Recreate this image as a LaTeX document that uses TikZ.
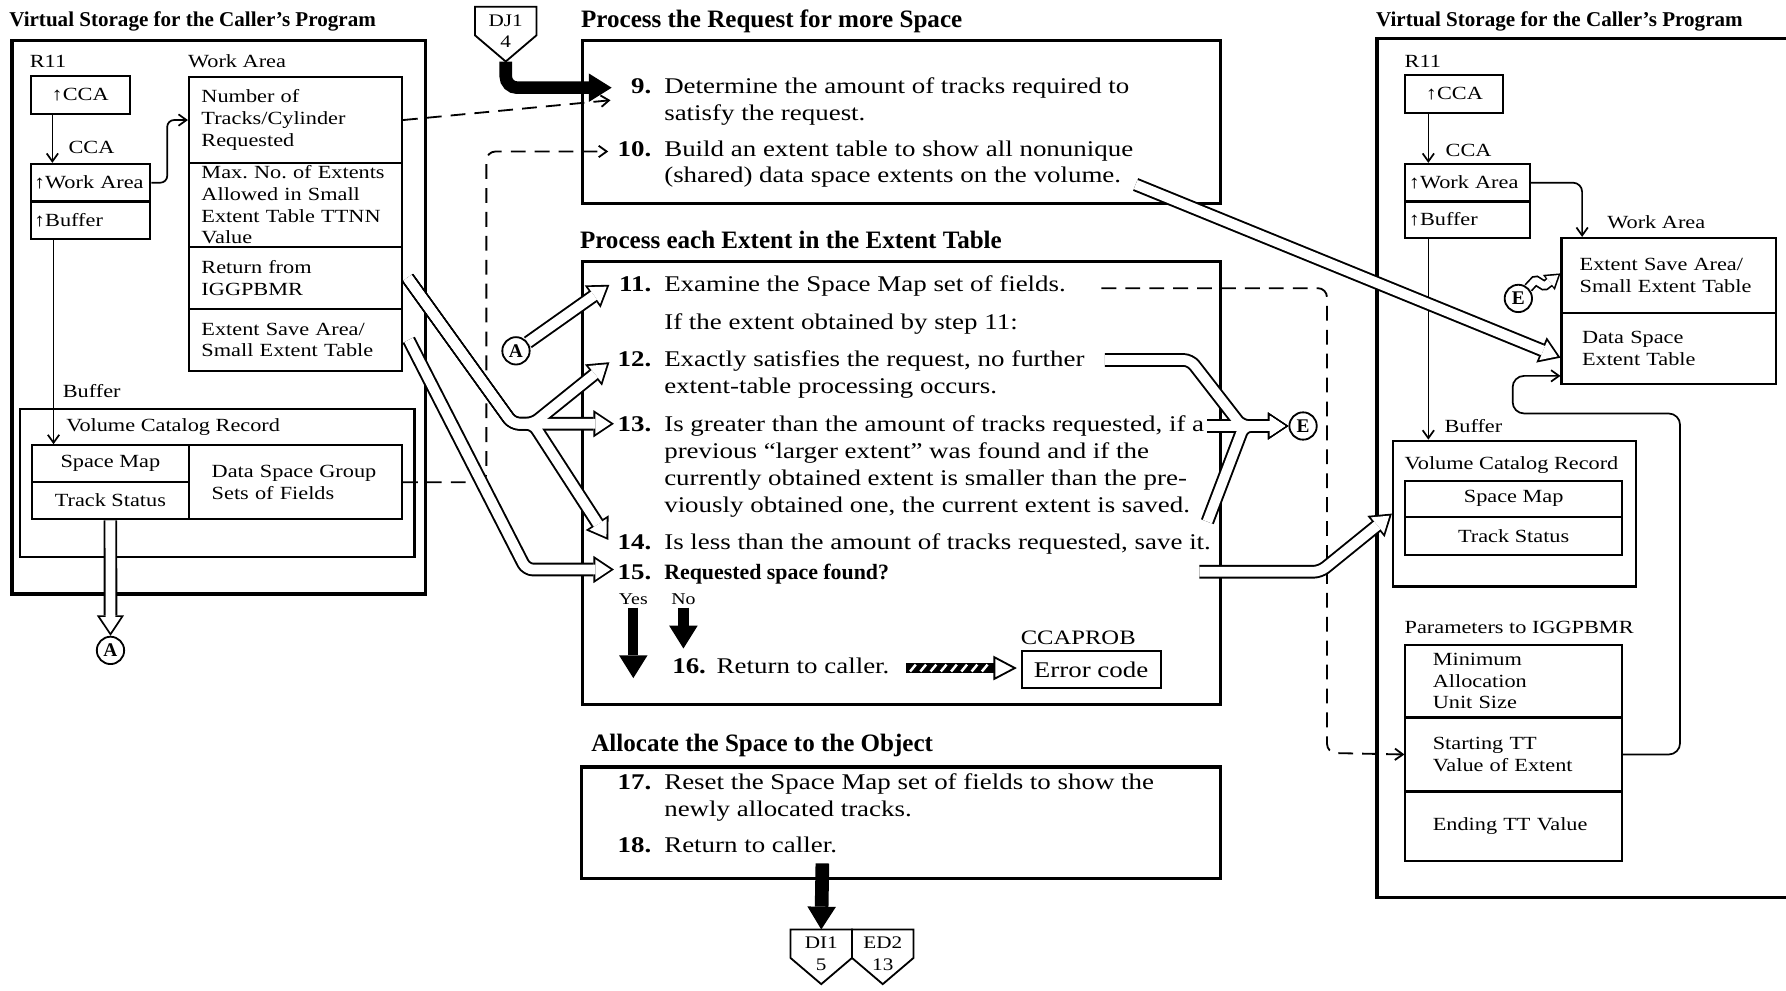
\documentclass[tikz,border=0pt]{standalone}
\usepackage{fontspec}
\setmainfont{Liberation Serif}[FakeStretch=1.2]
\newfontfamily\headfont{Liberation Serif}
\usetikzlibrary{arrows.meta}
\frenchspacing

% type sizes
\newcommand\boxtext{\fontsize{16.3}{19}\selectfont}
\newcommand\steptext{\fontsize{19.7}{23.5}\selectfont}
\newcommand\smalltext{\fontsize{14.5}{17}\selectfont}
\newcommand\headtext{\headfont\bfseries\fontsize{22}{26}\selectfont}
\newcommand\sidetext{\headfont\bfseries\fontsize{18.5}{22}\selectfont}

\tikzset{
  pics/offpage/.style 2 args={code={
    \draw[line width=1.6, fill=white] (-27,0) -- (27,0) -- (27,25) -- (0,48) -- (-27,25) -- cycle;
    \node[font=\fontsize{15.5}{18}\selectfont, inner sep=0] (-a) at (0,12) {#1};
    \node[font=\fontsize{15.5}{18}\selectfont, inner sep=0] (-b) at (0,31) {#2};
    \coordinate (-top) at (0,0);
    \coordinate (-tip) at (0,48);
  }},
}

% the wide hollow arrows, drawn once black and once white
\newcommand\widepaths[1]{
  \draw[#1] (tstat.south) -- (A1);
  \draw[#1] (A2) -- (535,250);
  \draw[#1] ([xshift=4]wa3.east) -- (450,372) -- (468,372) -- (535,318);
  \draw[#1] ([xshift=4]wa3.east) -- (450,372) -- (539,372);
  \draw[#1] ([xshift=4]wa3.east) -- (450,372) -- (468,372) -- (534,474);
  \draw[#1] ([xshift=5]wa4.east) -- (462,500) -- (539,500);
  \draw[#1] (e12) -- (1045,316) -- (1090,374) -- (E1);
  \draw[#1] (e13) -- (E1);
  \draw[#1] (e14) -- (1092,374) -- (E1);
  \draw[#1] (e10) -- (1370,314);
  \draw[#1] (e15) -- (1159,502) -- (vcr2.west);
}

\begin{document}
\begin{tikzpicture}[x=1pt, y=-1pt,
  panel/.style={draw, line width=3, inner sep=0, anchor=north west},
  cell/.style={draw, line width=1.8, anchor=north west, inner xsep=10, inner ysep=0, font=\boxtext, align=left},
  lbl/.style={font=\boxtext, inner sep=0, anchor=base west},
  ttl/.style={font=\sidetext, inner sep=0, anchor=base west},
  head/.style={font=\headtext, inner sep=0, anchor=base west},
  num/.style={font=\steptext\bfseries, inner sep=0, anchor=base east},
  txt/.style={font=\steptext, inner sep=0, anchor=base west, align=left},
  conn/.style={draw, circle, line width=1.6, minimum size=24, inner sep=0, fill=white,
    font=\headfont\bfseries\fontsize{17}{20}\selectfont},
  ptr/.style={line width=1.5, -{Straight Barb[length=7pt,width=10pt]}},
  dashline/.style={line width=1.6, dash pattern=on 13pt off 8pt, rounded corners=8,
    -{Straight Barb[length=7pt,width=10pt]}},
  fat/.style={line width=11, -{Triangle[length=20pt,width=25pt,line width=0pt]}},
  wideout/.style={line width=12, rounded corners=6, -{Triangle[length=18pt,width=24pt,line width=0pt]}},
  widein/.style={white, line width=8.6, rounded corners=6, shorten >=2.9pt,
    -{Triangle[length=13.5pt,width=18pt,line width=0pt]}},
]
\useasboundingbox (0,0) rectangle (1568,870);

% ---- left storage panel
\node[ttl] (ltitle) at (8,23) {Virtual Storage for the Caller’s Program};
\node[panel, minimum width=363, minimum height=486] (lpanel) at (9,34) {};
\node[lbl] (r11) at (26,59) {R11};
\node[cell, align=center, minimum width=87, minimum height=33] (cca) at (26,66) {↑CCA};
\node[lbl] (ccalbl) at (60,135) {CCA};
\node[cell, inner xsep=3, minimum width=105, minimum height=33, text width=99] (wap) at (26,143) {↑Work Area};
\node[cell, inner xsep=3, minimum width=105, minimum height=33, text width=99] (bufp) at (26,176) {↑Buffer};
\draw[ptr] ([xshift=20]cca.south west) -- ([xshift=20]wap.north west);

\node[lbl] (walbl) at (165,59) {Work Area};
\node[cell, inner xsep=11, minimum width=187, minimum height=75, text width=165] (wa1) at (165,67)
  {Number of\\Tracks/Cylinder\\Requested};
\node[cell, inner xsep=11, minimum width=187, minimum height=74, text width=165] (wa2) at (165,142)
  {Max. No. of Extents\\Allowed in Small\\Extent Table TTNN\\Value};
\node[cell, inner xsep=11, minimum width=187, minimum height=54, text width=165] (wa3) at (165,216)
  {Return from\\IGGPBMR};
\node[cell, inner xsep=11, minimum width=187, minimum height=55, text width=165] (wa4) at (165,270)
  {Extent Save Area/\\Small Extent Table};
\draw[ptr, rounded corners=6] (wap.east) -- ++(14,0) |- (wa1.west);

\node[lbl] (buflbl) at (55,349) {Buffer};
\node[cell, minimum width=346, minimum height=130] (vcr) at (17,358) {};
\node[lbl] (vcrlbl) at (58,379) {Volume Catalog Record};
\node[cell, align=center, minimum width=138, minimum height=32] (smap) at (27,390) {Space Map};
\node[cell, align=center, minimum width=138, minimum height=33] (tstat) at (27,422) {Track Status};
\node[cell, inner xsep=20, minimum width=187, minimum height=65, text width=147] (dsg) at (165,390)
  {Data Space Group\\Sets of Fields};
\draw[ptr] ([xshift=21]bufp.south west) -- ([xshift=20]smap.north west);
\node[conn] (A1) at (97,571) {A};

% ---- process request (multi-line texts sit on their last baseline)
\pic (dj1) at (444,6) {offpage={DJ1}{4}};
\node[head] (h1) at (510,24) {Process the Request for more Space};
\node[panel, minimum width=560, minimum height=143] (reqbox) at (510,34) {};
\node[num] (n9) at (572,82) {9.};
\node[txt] (s9) at (583,105.5) {Determine the amount of tracks required to\\satisfy the request.};
\node[num] (n10) at (572,137) {10.};
\node[txt] (s10) at (583,160.5) {Build an extent table to show all nonunique\\(shared) data space extents on the volume.};
\draw[fat, rounded corners=10] (dj1-tip) |- (537,77);

% ---- process each extent
\node[head] (h2) at (509,218) {Process each Extent in the Extent Table};
\node[panel, minimum width=560, minimum height=389] (extbox) at (510,228) {};
\node[num] (n11) at (572,256) {11.};
\node[txt] (s11) at (583,256) {Examine the Space Map set of fields.};
\node[txt] (sif) at (583,289) {If the extent obtained by step 11:};
\node[num] (n12) at (572,322) {12.};
\node[txt] (s12) at (583,345.5) {Exactly satisfies the request, no further\\extent-table processing occurs.};
\node[num] (n13) at (572,379) {13.};
\node[txt] (s13) at (583,449.5) {Is greater than the amount of tracks requested, if a\\previous “larger extent” was found and if the\\currently obtained extent is smaller than the pre-\\viously obtained one, the current extent is saved.};
\node[num] (n14) at (572,482) {14.};
\node[txt] (s14) at (583,482) {Is less than the amount of tracks requested, save it.};
\node[num] (n15) at (572,509) {15.};
\node[txt, font=\headfont\bfseries\fontsize{19.2}{23}\selectfont] (s15) at (583,509) {Requested space found?};
\node[font=\smalltext, inner sep=0, anchor=base] (yes) at (556,531) {Yes};
\node[font=\smalltext, inner sep=0, anchor=base] (no) at (600,531) {No};
\draw[fat, line width=9] ([yshift=-2]yes.south) -- ++(0,62);
\draw[fat, line width=9] ([yshift=-2]no.south) -- ++(0,36);
\node[num] (n16) at (620,591) {16.};
\node[txt] (s16) at (629,591) {Return to caller.};
\node[font=\fontsize{18}{21}\selectfont, inner sep=0, anchor=base west] (ccaprob) at (896,566) {CCAPROB};
\node[draw, line width=1.8, font=\steptext, inner sep=0, minimum width=122, minimum height=32,
  anchor=north west] (err) at (896,571) {Error code};
% hatched arrow to the error code
\fill (795,582) rectangle (873,591);
\foreach \x in {799,808,...,866}
  \draw[white, line width=2.2] (\x,589.5) -- (\x+5,583.5);
\draw[line width=1.6, fill=white] (873,577) -- (891,586.5) -- (873,596) -- cycle;

% ---- allocate
\node[head] (h3) at (519,660) {Allocate the Space to the Object};
\node[panel, minimum width=561, minimum height=98] (allocbox) at (509,672) {};
\node[num] (n17) at (572,693) {17.};
\node[txt] (s17) at (583,716.5) {Reset the Space Map set of fields to show the\\newly allocated tracks.};
\node[num] (n18) at (572,748) {18.};
\node[txt] (s18) at (583,748) {Return to caller.};
\pic (di1) at (721,816) {offpage={DI1}{5}};
\pic (ed2) at (775,816) {offpage={ED2}{13}};
\draw[fat, line width=12] (722,758) -- (di1-top);

% ---- right storage panel
\node[ttl] (rtitle) at (1208,23) {Virtual Storage for the Caller’s Program};
\draw[line width=3] (1575,34) -- (1209,34) -- (1209,788) -- (1575,788);
\node[lbl] (r11b) at (1233,59) {R11};
\node[cell, align=center, minimum width=86, minimum height=33] (cca2) at (1233,65) {↑CCA};
\node[lbl] (ccalbl2) at (1269,137) {CCA};
\node[cell, inner xsep=3, minimum width=109, minimum height=33, text width=103] (wap2) at (1233,143) {↑Work Area};
\node[cell, inner xsep=3, minimum width=109, minimum height=32, text width=103] (bufp2) at (1233,176) {↑Buffer};
\draw[ptr] ([xshift=21]cca2.south west) -- ([xshift=21]wap2.north west);

\node[lbl] (walbl2) at (1411,201) {Work Area};
\node[cell, inner xsep=16, minimum width=188, minimum height=66, text width=156] (ws2) at (1370,208)
  {Extent Save Area/\\Small Extent Table};
\node[cell, inner xsep=18, minimum width=188, minimum height=62, text width=152] (dse) at (1370,274)
  {Data Space\\Extent Table};
\draw[ptr, rounded corners=8] (wap2.east) -| (1389,208);
\node[conn] (E2) at (1333,262) {E};

\node[lbl] (buflbl2) at (1268,380) {Buffer};
\node[cell, minimum width=213, minimum height=128] (vcr2) at (1222,386) {};
\node[lbl] (vcrlbl2) at (1233,412) {Volume Catalog Record};
\node[cell, align=center, minimum width=190, minimum height=32] (smap2) at (1233,421) {Space Map};
\node[cell, align=center, minimum width=190, minimum height=33] (tstat2) at (1233,453) {Track Status};
\draw[ptr] ([xshift=21]bufp2.south west) -- ([xshift=32]vcr2.north west);

\node[lbl] (parlbl) at (1233,556) {Parameters to IGGPBMR};
\node[cell, inner xsep=24, minimum width=190, minimum height=64, text width=142] (p1) at (1233,565)
  {Minimum\\Allocation\\Unit Size};
\node[cell, inner xsep=24, minimum width=190, minimum height=65, text width=142] (p2) at (1233,629)
  {Starting TT\\Value of Extent};
\node[cell, inner xsep=24, minimum width=190, minimum height=61, text width=142] (p3) at (1233,694)
  {Ending TT Value};
\draw[ptr, rounded corners=10] (p2.east) -| (1475,363) -| (1328,330) -- (1370,330);

% ---- dashed data references
\draw[dashline] (wa1.east) -- (536,88);
\draw[dashline] (dsg.east) -| (427,133) -- (534,133);
\coordinate (d11) at (967,253);
\draw[dashline] (d11) -| (1165,661) -- (p2.west);

% ---- hollow flow arrows
\node[conn] (A2) at (453,308) {A};
\node[conn] (E1) at (1144,374) {E};
\coordinate (e10) at (997,162);
\coordinate (e12) at (970,316);
\coordinate (e13) at (1060,374);
\coordinate (e14) at (1060,458);
\coordinate (e15) at (1053,502);
\widepaths{wideout}
\draw[wideout, line width=9, rounded corners=1, -{Triangle[length=13pt,width=17pt,line width=0pt]}]
  (E2) -- (1348,246) -- (1356,251) -- (1370,240);
\widepaths{widein}
\draw[widein, line width=6, rounded corners=1, shorten >=2.4pt, -{Triangle[length=9.5pt,width=12pt,line width=0pt]}]
  (E2) -- (1348,246) -- (1356,251) -- (1370,240);

\end{tikzpicture}
\end{document}
